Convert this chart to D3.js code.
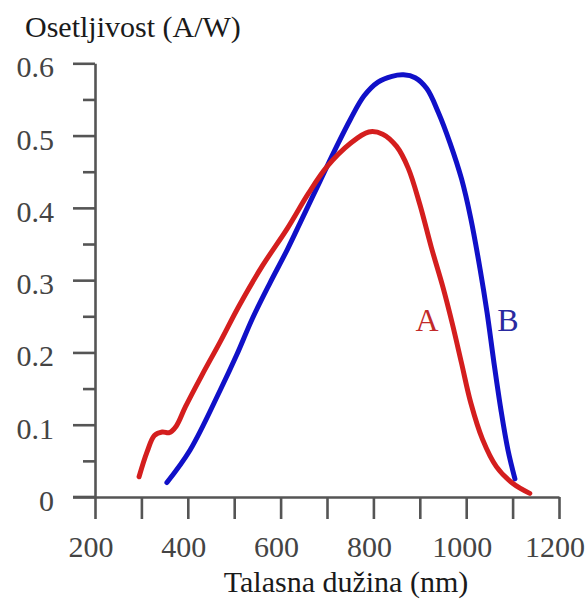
<!DOCTYPE html>
<html><head><meta charset="utf-8">
<script src="https://cdn.jsdelivr.net/npm/d3@7"></script>
</head><body style="margin:0">
<svg id="c" width="585" height="601" font-family="Liberation Serif" style="display:block"></svg>
<script>
const seriesA = [[295,0.028],[312,0.062],[328,0.085],[345,0.09],[360,0.089],[375,0.098],[395,0.125],[430,0.168],[470,0.215],[510,0.264],[560,0.319],[615,0.372],[660,0.42],[700,0.457],[750,0.489],[790,0.505],[820,0.502],[850,0.485],[875,0.455],[900,0.405],[925,0.345],[950,0.29],[970,0.24],[990,0.185],[1010,0.13],[1035,0.08],[1065,0.042],[1100,0.019],[1137,0.005]];
const seriesB = [[355,0.02],[405,0.065],[470,0.148],[505,0.196],[540,0.248],[577,0.296],[615,0.343],[650,0.39],[685,0.437],[720,0.484],[750,0.522],[780,0.555],[810,0.574],[840,0.582],[865,0.584],[890,0.58],[915,0.565],[940,0.532],[965,0.49],[990,0.44],[1010,0.385],[1030,0.315],[1045,0.255],[1060,0.185],[1075,0.12],[1090,0.065],[1105,0.025]];
const xTicks = [200,300,400,500,600,700,800,900,1000,1100,1200];
const xTickLabels = [200,400,600,800,1000,1200];
const yTicks = [0,0.1,0.2,0.3,0.4,0.5,0.6];
const yMinorTicks = [0.05,0.15,0.25,0.35,0.45,0.55];
const yTickLabels = ["0","0.1","0.2","0.3","0.4","0.5","0.6"];
const yTitle = "Osetljivost (A/W)";
const xTitle = "Talasna dužina (nm)";
const seriesNames = ["A","B"];

const svg = d3.select("#c");
const x = d3.scaleLinear().domain([200,1200]).range([95,559]);
const y = d3.scaleLinear().domain([0,0.6]).range([497,63.3]);
const axisCol = "#555";
const font = "Liberation Serif";
function serif(sel){ return sel.attr("font-family",font).style("font-family",font,"important"); }

// x axis
const xa = svg.append("g").attr("transform","translate(0,497)")
  .call(d3.axisBottom(x).tickValues(xTicks).tickSize(22).tickSizeOuter(0).tickFormat(""));
xa.select(".domain").attr("stroke",axisCol).attr("stroke-width",2.6);
xa.selectAll(".tick line").attr("stroke",axisCol).attr("stroke-width",2.6);
svg.append("line").attr("x1",73).attr("x2",x(200)).attr("y1",y(0)).attr("y2",y(0))
  .attr("stroke",axisCol).attr("stroke-width",2.6);

// y axis
const ya = svg.append("g").attr("transform","translate(95,0)")
  .call(d3.axisLeft(y).tickValues(yTicks).tickSize(22).tickSizeOuter(0).tickFormat(""));
ya.select(".domain").attr("stroke",axisCol).attr("stroke-width",2.6);
ya.selectAll(".tick line").attr("stroke",axisCol).attr("stroke-width",2.6);
const yb = svg.append("g").attr("transform","translate(95,0)")
  .call(d3.axisLeft(y).tickValues(yMinorTicks).tickSize(12).tickFormat(""));
yb.select(".domain").remove();
yb.selectAll(".tick line").attr("stroke",axisCol).attr("stroke-width",2.6);

// tick labels
serif(svg.append("g").selectAll("text").data(xTickLabels).join("text"))
  .attr("x",d=>x(d)-4).attr("y",557).attr("text-anchor","middle")
  .attr("font-size",30).attr("fill","#444").text(d=>d);
serif(svg.append("g").selectAll("text").data(yTicks).join("text"))
  .attr("x",54).attr("y",d=>y(d)+14).attr("text-anchor","end")
  .attr("font-size",30).attr("fill","#444").text((d,i)=>yTickLabels[i]);

// titles
serif(svg.append("text")).attr("x",25).attr("y",37).attr("font-size",30)
  .attr("fill","#1a1a1a").text(yTitle);
serif(svg.append("text")).attr("x",346).attr("y",592).attr("text-anchor","middle").attr("font-size",30)
  .attr("fill","#1a1a1a").text(xTitle);

// curves
const line = d3.line().x(d=>x(d[0])).y(d=>y(d[1])).curve(d3.curveCatmullRom.alpha(0.5));
svg.append("path").datum(seriesB).attr("d",line).attr("fill","none")
  .attr("stroke","#1010c8").attr("stroke-width",5).attr("stroke-linecap","round").attr("stroke-linejoin","round");
svg.append("path").datum(seriesA).attr("d",line).attr("fill","none")
  .attr("stroke","#d41e1e").attr("stroke-width",5).attr("stroke-linecap","round").attr("stroke-linejoin","round");

// series labels
serif(svg.append("text")).attr("x",427).attr("y",331).attr("text-anchor","middle")
  .attr("font-size",32).attr("fill","#c22a2a").text(seriesNames[0]);
serif(svg.append("text")).attr("x",508).attr("y",331).attr("text-anchor","middle")
  .attr("font-size",32).attr("fill","#2a2aa0").text(seriesNames[1]);
</script>
</body></html>
